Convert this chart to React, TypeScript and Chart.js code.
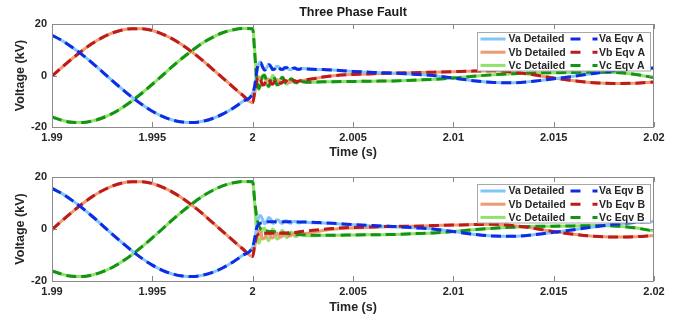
import React, { useEffect, useRef } from "react";
import { Chart, registerables } from "chart.js";

Chart.register(...registerables);

// ---------- data ----------
const preTime = [
  1.99, 1.9905, 1.991, 1.9915, 1.992, 1.9925, 1.993, 1.9935, 1.994, 1.9945, 1.995,
  1.9955, 1.996, 1.9965, 1.997, 1.9975, 1.998, 1.9985, 1.999, 1.9995, 2.0,
];
const postTime = [
  2.0001, 2.0002, 2.0003, 2.0004, 2.0005, 2.0006, 2.0007, 2.0008, 2.0009, 2.001,
  2.0011, 2.0012, 2.0013, 2.0014, 2.0015, 2.0016, 2.0017, 2.0018, 2.0019, 2.002,
  2.0021, 2.0022, 2.0023, 2.0024, 2.0025, 2.003, 2.0035, 2.004,
  2.005, 2.006, 2.007, 2.008, 2.009, 2.01, 2.011, 2.012, 2.013, 2.014, 2.015,
  2.016, 2.017, 2.018, 2.019, 2.02,
];

// pre-fault (all models overlap)
const vaPre = [15.6, 13.6, 11.0, 8.1, 4.9, 1.5, -2.0, -5.3, -8.5, -11.4, -13.9, -15.9, -17.3, -18.1, -18.3, -17.8, -16.7, -15.0, -12.8, -10.1, -7.0];
const vbPre = [-0.2, 3.2, 6.5, 9.6, 12.4, 14.7, 16.5, 17.7, 18.2, 18.2, 17.5, 16.1, 14.2, 11.8, 9.0, 5.9, 2.5, -0.9, -4.3, -7.6, -10.6];
const vcPre = [-16.1, -17.4, -18.2, -18.3, -17.7, -16.5, -14.8, -12.5, -9.8, -6.7, -3.4, 0.0, 3.5, 6.8, 9.8, 12.6, 14.8, 16.6, 17.7, 18.3, 18.2];

// post-fault, detailed model
const vaDetailedPost = [-4.5, 1.0, 4.5, 5.2, 3.5, 2.0, 3.0, 4.4, 3.8, 2.2, 2.4, 3.6, 3.4, 2.3, 2.2, 3.1, 3.2, 2.4, 2.2, 2.8, 3.0, 2.5, 2.3, 2.6, 2.7, 2.4, 2.3, 2.1, 1.6, 1.2, 0.9, 0.5, 0.0, -1.0, -2.0, -2.7, -2.8, -2.2, -1.3, -0.3, 0.8, 1.8, 2.5, 2.9];
const vbDetailedPost = [-7.0, -2.5, -0.5, -1.5, -3.8, -3.5, -1.6, -1.4, -3.0, -3.5, -2.2, -1.5, -2.5, -3.2, -2.6, -1.8, -2.1, -2.8, -2.6, -2.0, -2.0, -2.4, -2.3, -2.0, -1.9, -1.3, -0.6, -0.1, 0.4, 0.7, 0.9, 1.1, 1.3, 1.5, 1.7, 1.8, 1.3, 0.3, -1.0, -2.0, -2.8, -3.1, -3.0, -2.5];
const vcDetailedPost = [10.0, -1.0, -5.5, -3.5, 0.0, 0.3, -3.0, -4.5, -2.0, 0.0, -1.2, -3.8, -3.6, -1.2, -0.6, -2.4, -3.4, -2.4, -1.2, -1.6, -2.8, -2.9, -2.0, -1.8, -2.4, -2.6, -2.4, -2.4, -2.3, -2.2, -2.1, -1.8, -1.5, -1.0, -0.3, 0.3, 0.7, 1.0, 1.1, 1.2, 1.3, 1.2, 0.5, -0.8];

// post-fault, equivalent model A
const vaEqvAPost = [-4.0, 1.5, 4.8, 5.0, 3.2, 2.1, 3.2, 4.2, 3.5, 2.3, 2.6, 3.5, 3.1, 2.4, 2.4, 3.0, 3.0, 2.4, 2.3, 2.8, 2.9, 2.5, 2.4, 2.6, 2.6, 2.4, 2.3, 2.1, 1.6, 1.2, 0.9, 0.5, 0.0, -1.0, -2.0, -2.7, -2.8, -2.2, -1.3, -0.3, 0.8, 1.8, 2.5, 2.9];
const vbEqvAPost = [-6.5, -2.0, -0.6, -1.8, -3.6, -3.2, -1.6, -1.6, -3.0, -3.3, -2.2, -1.7, -2.5, -3.0, -2.5, -1.9, -2.2, -2.7, -2.5, -2.0, -2.0, -2.3, -2.2, -2.0, -1.9, -1.3, -0.6, -0.1, 0.4, 0.7, 0.9, 1.1, 1.3, 1.5, 1.7, 1.8, 1.3, 0.3, -1.0, -2.0, -2.8, -3.1, -3.0, -2.5];
const vcEqvAPost = [9.0, -1.5, -5.0, -3.0, -0.3, 0.0, -2.8, -4.2, -2.2, -0.3, -1.3, -3.5, -3.4, -1.4, -0.8, -2.4, -3.2, -2.4, -1.4, -1.7, -2.7, -2.8, -2.1, -1.9, -2.4, -2.6, -2.4, -2.4, -2.3, -2.2, -2.1, -1.8, -1.5, -1.0, -0.3, 0.3, 0.7, 1.0, 1.1, 1.2, 1.3, 1.2, 0.5, -0.8];

// post-fault, equivalent model B
const vaEqvBPost = [-3.5, 0.5, 1.8, 2.3, 2.5, 2.6, 2.7, 2.8, 2.8, 2.8, 2.8, 2.8, 2.8, 2.8, 2.8, 2.8, 2.8, 2.8, 2.8, 2.8, 2.8, 2.8, 2.7, 2.7, 2.7, 2.6, 2.4, 2.2, 1.7, 1.3, 1.0, 0.5, 0.0, -1.0, -2.0, -2.7, -2.8, -2.2, -1.3, -0.3, 0.8, 1.8, 2.5, 2.9];
const vbEqvBPost = [-6.0, -2.8, -2.0, -1.7, -1.6, -1.6, -1.6, -1.6, -1.6, -1.6, -1.6, -1.6, -1.6, -1.6, -1.6, -1.5, -1.5, -1.4, -1.4, -1.3, -1.3, -1.2, -1.1, -1.0, -0.9, -0.5, -0.1, 0.2, 0.6, 0.8, 1.0, 1.1, 1.3, 1.5, 1.7, 1.8, 1.3, 0.3, -1.0, -2.0, -2.8, -3.1, -3.0, -2.5];
const vcEqvBPost = [11.0, 4.8, 1.5, 0.0, -0.5, -0.7, -0.8, -0.9, -1.0, -1.0, -1.1, -1.2, -1.3, -1.4, -1.5, -1.6, -1.7, -1.8, -1.9, -2.0, -2.0, -2.1, -2.1, -2.2, -2.2, -2.4, -2.4, -2.4, -2.3, -2.2, -2.1, -1.8, -1.5, -1.0, -0.3, 0.3, 0.7, 1.0, 1.1, 1.2, 1.3, 1.2, 0.5, -0.8];

const xTicks = [1.99, 1.995, 2, 2.005, 2.01, 2.015, 2.02];
const xTickLabels = ["1.99", "1.995", "2", "2.005", "2.01", "2.015", "2.02"];
const yTicks = [-20, 0, 20];
const yTickLabels = ["-20", "0", "20"];

const chartTitle = "Three Phase Fault";
const xTitle = "Time (s)";
const yTitle = "Voltage (kV)";

// ---------- styles ----------
const FONT = '"Liberation Sans", Arial, Helvetica, sans-serif';
const TEXT = "#262626";
const COLORS = {
  vaDet: "#80C6F7",
  vbDet: "#EE9A72",
  vcDet: "#92E06E",
  vaEqv: "#0F2BE6",
  vbEqv: "#BE1A1A",
  vcEqv: "#149414",
};

const time = preTime.concat(postTime);
const toPoints = (pre: number[], post: number[]) =>
  pre.concat(post).map((y, i) => ({ x: time[i], y }));

function buildDatasets(model: "A" | "B") {
  const eqv = model === "A"
    ? [vaEqvAPost, vbEqvAPost, vcEqvAPost]
    : [vaEqvBPost, vbEqvBPost, vcEqvBPost];
  const det = [vaDetailedPost, vbDetailedPost, vcDetailedPost];
  const pres = [vaPre, vbPre, vcPre];
  const names = ["Va", "Vb", "Vc"];
  const detColors = [COLORS.vaDet, COLORS.vbDet, COLORS.vcDet];
  const eqvColors = [COLORS.vaEqv, COLORS.vbEqv, COLORS.vcEqv];
  const ds: any[] = [];
  for (let i = 0; i < 3; i++) {
    ds.push({
      label: `${names[i]} Detailed`,
      data: toPoints(pres[i], det[i]),
      borderColor: detColors[i],
      borderWidth: 3,
      borderDash: [],
      order: 1,
    });
  }
  for (let i = 0; i < 3; i++) {
    ds.push({
      label: `${names[i]} Eqv ${model}`,
      data: toPoints(pres[i], eqv[i]),
      borderColor: eqvColors[i],
      borderWidth: 3,
      borderDash: [10, 5],
      order: 0,
    });
  }
  return ds;
}

const framePlugin = {
  id: "frame",
  afterDatasetsDraw(chart: any) {
    const { ctx, chartArea, scales } = chart;
    const { left, top, right, bottom } = chartArea;
    ctx.save();
    ctx.strokeStyle = "#8a8a8a";
    ctx.lineWidth = 1;
    ctx.strokeRect(Math.round(left) + 0.5, Math.round(top) + 0.5, Math.round(right - left) - 1, Math.round(bottom - top));
    ctx.beginPath();
    xTicks.forEach((v) => {
      const px = Math.round(scales.x.getPixelForValue(v)) + 0.5;
      ctx.moveTo(px, bottom);
      ctx.lineTo(px, bottom - 5);
      ctx.moveTo(px, top);
      ctx.lineTo(px, top + 5);
    });
    yTicks.forEach((v) => {
      const py = Math.round(scales.y.getPixelForValue(v)) + 0.5;
      ctx.moveTo(left, py);
      ctx.lineTo(left + 5, py);
      ctx.moveTo(right, py);
      ctx.lineTo(right - 5, py);
    });
    ctx.stroke();
    ctx.restore();
  },
};

const legendBoxPlugin = {
  id: "legendBox",
  afterDraw(chart: any) {
    const { ctx, chartArea } = chart;
    const opts = chart.options.plugins.legendBox || {};
    const bw = 173;
    const bh = 38.5;
    const bx = Math.round(chartArea.right - 177) + 0.5;
    const by = Math.round(chartArea.top + (opts.offsetY ?? 7.5)) + 0.5;
    ctx.save();
    ctx.fillStyle = "#ffffff";
    ctx.fillRect(bx, by, bw, bh);
    ctx.strokeStyle = "#a8a8a8";
    ctx.lineWidth = 1;
    ctx.strokeRect(bx, by, bw, bh);
    ctx.font = `bold 10.5px ${FONT}`;
    ctx.fillStyle = TEXT;
    ctx.textBaseline = "middle";
    ctx.textAlign = "left";
    chart.data.datasets.forEach((d: any, i: number) => {
      const col = Math.floor(i / 3);
      const row = i % 3;
      const y = by + 6.5 + row * 13.2;
      const x0 = col === 0 ? bx + 3 : bx + 93;
      const x1 = col === 0 ? bx + 28 : bx + 120;
      ctx.beginPath();
      ctx.strokeStyle = d.borderColor;
      ctx.lineWidth = 3;
      ctx.setLineDash(col === 0 ? [] : [10, 12]);
      ctx.moveTo(x0, y);
      ctx.lineTo(x1, y);
      ctx.stroke();
      ctx.setLineDash([]);
      ctx.fillStyle = TEXT;
      ctx.fillText(d.label, col === 0 ? bx + 31 : bx + 121.5, y + 0.5);
    });
    ctx.restore();
  },
};

function PhaseChart({ model }: { model: "A" | "B" }) {
  const ref = useRef<HTMLCanvasElement | null>(null);
  useEffect(() => {
    if (!ref.current) return;
    const isTop = model === "A";
    const tickFont = { family: FONT, size: 11, weight: "bold" as const };
    const titleFont = { family: FONT, size: 12.5, weight: "bold" as const };
    const chart = new Chart(ref.current, {
      type: "line",
      data: { datasets: buildDatasets(model) },
      plugins: [framePlugin, legendBoxPlugin],
      options: {
        animation: false,
        responsive: false,
        maintainAspectRatio: false,
        layout: { padding: { top: isTop ? 0 : 17, right: 32, left: 0, bottom: 0 } },
        elements: {
          point: { radius: 0 },
          line: { cubicInterpolationMode: "monotone", borderCapStyle: "butt", borderJoinStyle: "round" },
        },
        plugins: {
          legend: { display: false },
          tooltip: { enabled: false },
          title: {
            display: isTop,
            text: chartTitle,
            font: titleFont,
            color: "#1a1a1a",
            padding: { top: 5.5, bottom: 3.5 },
            fullSize: false,
          },
          legendBox: { offsetY: isTop ? 7.5 : 6.5 },
        } as any,
        scales: {
          x: {
            type: "linear",
            min: 1.99,
            max: 2.02,
            afterBuildTicks: (s: any) => {
              s.ticks = xTicks.map((v) => ({ value: v }));
            },
            afterFit: (s: any) => {
              s.height = isTop ? 33 : 39;
            },
            ticks: {
              autoSkip: false,
              maxRotation: 0,
              padding: 4,
              font: tickFont,
              color: TEXT,
              callback: (_v: any, i: number) => xTickLabels[i],
            },
            grid: { display: false, drawTicks: false },
            border: { display: false },
            title: {
              display: true,
              text: xTitle,
              font: titleFont,
              color: TEXT,
              padding: { top: 0, bottom: isTop ? 0 : 5 },
            },
          },
          y: {
            type: "linear",
            min: -20,
            max: 20,
            afterBuildTicks: (s: any) => {
              s.ticks = yTicks.map((v) => ({ value: v }));
            },
            afterFit: (s: any) => {
              s.width = 52;
            },
            ticks: {
              padding: 5,
              font: tickFont,
              color: TEXT,
              callback: (_v: any, i: number) => yTickLabels[i],
            },
            grid: { display: false, drawTicks: false },
            border: { display: false },
            title: {
              display: true,
              text: yTitle,
              font: titleFont,
              color: TEXT,
              padding: { top: 13.5, bottom: 0 },
            },
          },
        },
      } as any,
    });
    return () => chart.destroy();
  }, [model]);
  return <canvas ref={ref} width={686} height={160} style={{ display: "block", width: 686, height: 160 }} />;
}

export default function App() {
  return (
    <div style={{ position: "fixed", left: 0, top: 0, width: 686, height: 320, background: "#ffffff" }}>
      <PhaseChart model="A" />
      <PhaseChart model="B" />
    </div>
  );
}
